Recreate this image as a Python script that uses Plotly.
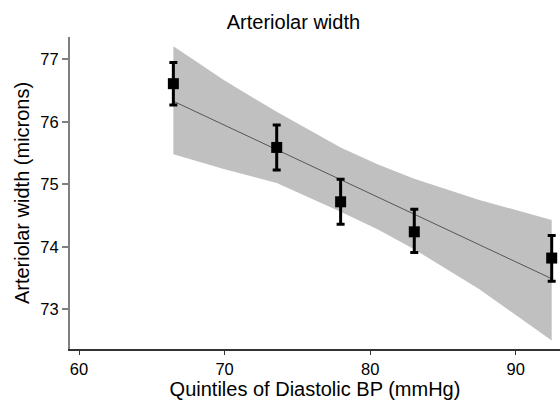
import plotly.graph_objects as go

# Data
quintile_x = [66.48, 73.58, 77.97, 83.03, 92.47]
mean_width = [76.61, 75.59, 74.72, 74.24, 73.82]
ci_upper = [76.95, 75.95, 75.08, 74.60, 74.18]
ci_lower = [76.27, 75.23, 74.36, 73.91, 73.45]

fit_x = [66.48, 92.47]
fit_y = [76.33, 73.49]

band_x = [66.48, 70.0, 73.58, 77.97, 80.5, 83.03, 87.5, 92.47]
band_upper = [77.21, 76.66, 76.16, 75.59, 75.32, 75.09, 74.75, 74.43]
band_lower = [75.48, 75.24, 75.02, 74.56, 74.28, 73.96, 73.32, 72.50]

x_ticks = [60, 70, 80, 90]
y_ticks = [73, 74, 75, 76, 77]

FONT = "Liberation Sans, Arial, sans-serif"

fig = go.Figure()

fig.add_trace(go.Scatter(
    x=band_x + band_x[::-1],
    y=band_upper + band_lower[::-1],
    fill="toself", fillcolor="#c0c0c0",
    line=dict(width=0), mode="lines", hoverinfo="skip", showlegend=False,
))

fig.add_trace(go.Scatter(
    x=fit_x, y=fit_y, mode="lines",
    line=dict(color="#555555", width=1), showlegend=False,
))

fig.add_trace(go.Scatter(
    x=quintile_x, y=mean_width, mode="markers",
    marker=dict(symbol="square", size=11, color="black"),
    error_y=dict(
        type="data", symmetric=False,
        array=[u - m for u, m in zip(ci_upper, mean_width)],
        arrayminus=[m - l for m, l in zip(mean_width, ci_lower)],
        thickness=3, width=4, color="black",
    ),
    cliponaxis=False,
    showlegend=False,
))

fig.update_layout(
    width=560, height=401,
    margin=dict(l=70, r=0, t=37, b=52),
    paper_bgcolor="white", plot_bgcolor="white",
    font=dict(family=FONT, color="black"),
    title=dict(text="Arteriolar width", x=0.524, xref="container", xanchor="center",
               y=0.945, yref="container", yanchor="middle",
               font=dict(size=20, family=FONT, color="black")),
)

fig.update_xaxes(
    range=[59.38, 93.04], tickvals=x_ticks, ticktext=[str(v) for v in x_ticks],
    showgrid=False, zeroline=False, automargin=False,
    showline=True, linecolor="#333333", linewidth=1.5,
    ticks="outside", ticklen=4, tickcolor="#333333", tickwidth=1,
    tickfont=dict(size=16.5),
    title=dict(text="Quintiles of Diastolic BP (mmHg)", font=dict(size=20), standoff=3),
)
fig.update_yaxes(
    range=[72.365, 77.357], tickvals=y_ticks, ticktext=[str(v) for v in y_ticks],
    showgrid=False, zeroline=False, automargin=False,
    showline=True, linecolor="#808080", linewidth=2,
    ticks="outside", ticklen=6, tickcolor="#808080", tickwidth=2,
    tickfont=dict(size=16.5),
    title=dict(text="Arteriolar width (microns)", font=dict(size=20), standoff=5),
)

fig.write_html(
    "out.html",
    config={"displayModeBar": False},
    post_script="document.body.style.margin='0px';document.body.style.padding='0px';",
)
